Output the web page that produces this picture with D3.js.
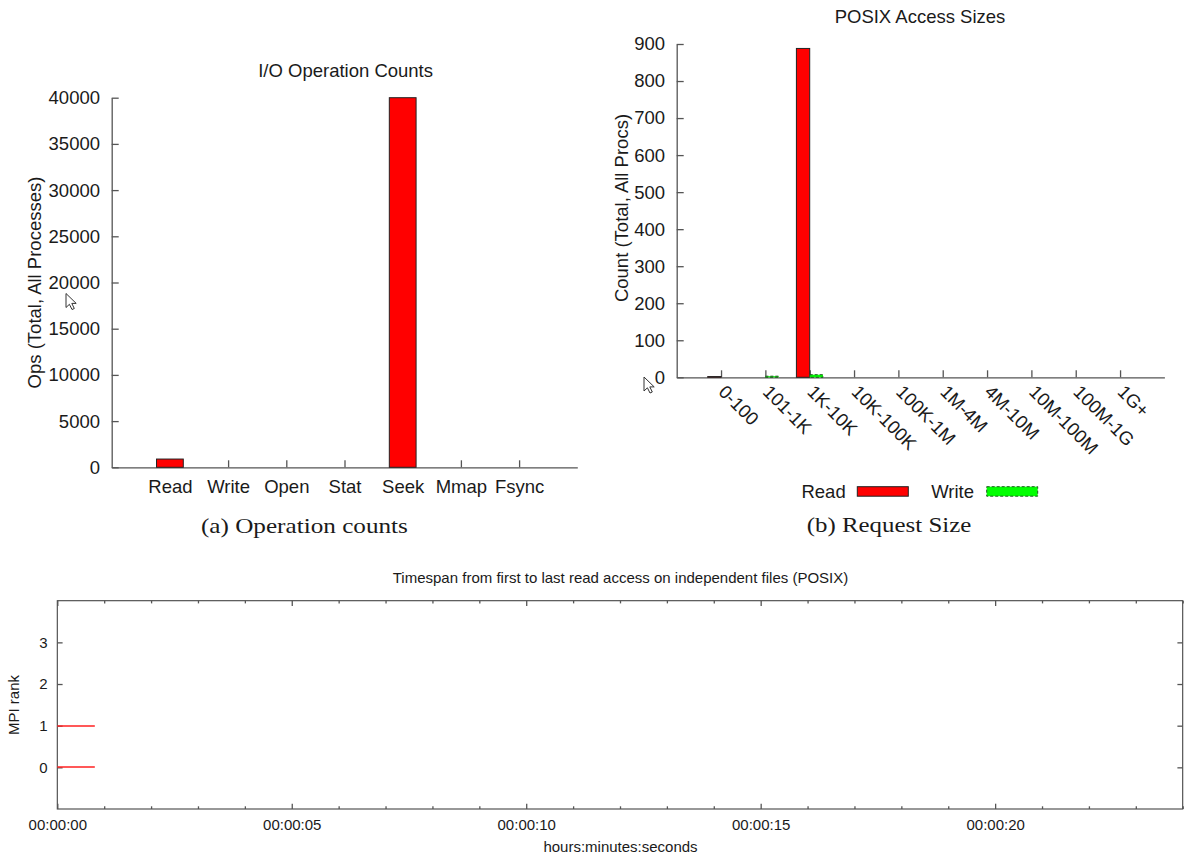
<!DOCTYPE html>
<html>
<head>
<meta charset="utf-8">
<script src="https://cdn.jsdelivr.net/npm/d3@7"></script>
<style>
  html, body { margin: 0; padding: 0; background: #fff; }
  svg { display: block; font-family: "Liberation Sans", Arial, Helvetica, sans-serif; }
</style>
</head>
<body>
<svg id="fig" width="1184" height="858"></svg>
<script>
// ---- (a) I/O operation counts, total over all processes ----
const opCategories = ["Read", "Write", "Open", "Stat", "Seek", "Mmap", "Fsync"];
const opCounts = [893, 0, 0, 0, 40000, 0, 0];
const opTicks = [0, 5000, 10000, 15000, 20000, 25000, 30000, 35000, 40000];

// ---- (b) POSIX access sizes ----
const sizeCategories = ["0-100", "101-1K", "1K-10K", "10K-100K", "100K-1M",
                        "1M-4M", "4M-10M", "10M-100M", "100M-1G", "1G+"];
const sizeReads  = [2, 0, 888, 0, 0, 0, 0, 0, 0, 0];
const sizeWrites = [0, 3, 7, 0, 0, 0, 0, 0, 0, 0];
const sizeTicks = [0, 100, 200, 300, 400, 500, 600, 700, 800, 900];

// ---- first-to-last read access per MPI rank (seconds) ----
const ranks = [0, 1];
const rankFirst = [0, 0];
const rankLast = [0.8, 0.8];
const rankTicks = [0, 1, 2, 3];
const timeTicks = [0, 5, 10, 15, 20];
const timeTickLabels = ["00:00:00", "00:00:05", "00:00:10", "00:00:15", "00:00:20"];

const svg = d3.select("#fig");
const INK = "#1a1a1a";
const AXIS = "#555";
const plain = d3.format("d");

function styleAxis(g, size) {
  g.attr("font-size", null).attr("font-family", null);
  g.select(".domain").attr("stroke", AXIS).attr("stroke-width", 1.3);
  g.selectAll(".tick line").attr("stroke", AXIS).attr("stroke-width", 1.3);
  g.selectAll(".tick text").attr("fill", INK).style("font-size", size + "px");
}

// ================= (a) Operation counts =================
{
  const x = d3.scaleLinear().domain([0, opCategories.length + 1]).range([111.7, 577.3]);
  const y = d3.scaleLinear().domain([0, 40000]).range([467.3, 97.7]);
  const g = svg.append("g");

  g.append("g").attr("transform", `translate(${x(0)},0)`)
    .call(d3.axisLeft(y).tickValues(opTicks).tickFormat(plain)
      .tickSize(-7).tickSizeOuter(0).tickPadding(11.7))
    .call(a => styleAxis(a, 18.5));

  g.append("g").attr("transform", `translate(0,${y(0)})`)
    .call(d3.axisBottom(x).tickValues(d3.range(1, opCategories.length + 1))
      .tickFormat(i => opCategories[i - 1]).tickSize(-7).tickSizeOuter(0).tickPadding(12.8))
    .call(a => styleAxis(a, 18.5));

  const bw = 0.46;
  g.selectAll("rect.bar")
    .data(opCounts.map((v, i) => ({ v, i })).filter(d => d.v > 0))
    .join("rect").attr("class", "bar")
    .attr("x", d => x(d.i + 1 - bw / 2))
    .attr("width", x(bw) - x(0))
    .attr("y", d => y(d.v))
    .attr("height", d => y(0) - y(d.v))
    .attr("fill", "#ff0000").attr("stroke", "#222").attr("stroke-width", 1);

  g.append("text").attr("x", 345.6).attr("y", 76.5).attr("text-anchor", "middle")
    .attr("fill", INK).style("font-size", "18.5px").text("I/O Operation Counts");

  g.append("text").attr("transform", "translate(35,282.5) rotate(-90)")
    .attr("dy", "0.35em").attr("text-anchor", "middle")
    .attr("fill", INK).style("font-size", "18.5px").text("Ops (Total, All Processes)");

  g.append("text").attr("x", 304.4).attr("y", 532.5).attr("text-anchor", "middle")
    .attr("textLength", 207).attr("lengthAdjust", "spacingAndGlyphs")
    .style("font-family", "'Liberation Serif', 'Times New Roman', serif")
    .style("font-size", "22px").attr("fill", INK).text("(a) Operation counts");
}

// ================= (b) Request size =================
{
  const x = d3.scaleLinear().domain([0, sizeCategories.length + 1]).range([676.7, 1164.4]);
  const y = d3.scaleLinear().domain([0, 900]).range([377.3, 44]);
  const g = svg.append("g");

  g.append("g").attr("transform", `translate(${x(0)},0)`)
    .call(d3.axisLeft(y).tickValues(sizeTicks).tickFormat(plain)
      .tickSize(-7).tickSizeOuter(0).tickPadding(11.7))
    .call(a => styleAxis(a, 18.5));

  const xa = g.append("g").attr("transform", `translate(0,${y(0)})`)
    .call(d3.axisBottom(x).tickValues(d3.range(1, sizeCategories.length + 1))
      .tickFormat(i => sizeCategories[i - 1]).tickSize(-7).tickSizeOuter(0))
    .call(a => styleAxis(a, 18.5));
  xa.selectAll(".tick text")
    .attr("text-anchor", "start").attr("x", -4).attr("y", 15.7).attr("dy", null)
    .attr("transform", "rotate(45,-4,15.7)");

  const bw = 0.3;
  g.selectAll("rect.rd")
    .data(sizeReads.map((v, i) => ({ v, i })).filter(d => d.v > 0))
    .join("rect").attr("class", "rd")
    .attr("x", d => x(d.i + 1 - bw))
    .attr("width", x(bw) - x(0))
    .attr("y", d => y(d.v))
    .attr("height", d => y(0) - y(d.v))
    .attr("fill", "#ff0000").attr("stroke", "#222").attr("stroke-width", 1);

  g.selectAll("rect.wr")
    .data(sizeWrites.map((v, i) => ({ v, i })).filter(d => d.v > 0))
    .join("rect").attr("class", "wr")
    .attr("x", d => x(d.i + 1))
    .attr("width", x(bw) - x(0))
    .attr("y", d => y(d.v))
    .attr("height", d => y(0) - y(d.v))
    .attr("fill", "#00ff00").attr("stroke", "#1f5a1f").attr("stroke-width", 1)
    .attr("stroke-dasharray", "3,2");

  g.append("text").attr("x", 920).attr("y", 22.5).attr("text-anchor", "middle")
    .attr("fill", INK).style("font-size", "18.5px").text("POSIX Access Sizes");

  g.append("text").attr("transform", "translate(622,208) rotate(-90)")
    .attr("dy", "0.35em").attr("text-anchor", "middle")
    .attr("fill", INK).style("font-size", "18.5px").text("Count (Total, All Procs)");

  // legend
  const lg = g.append("g");
  lg.append("text").attr("x", 845.7).attr("y", 498).attr("text-anchor", "end")
    .attr("fill", INK).style("font-size", "18.5px").text("Read");
  lg.append("rect").attr("x", 857.3).attr("y", 486.7).attr("width", 51).attr("height", 9.5)
    .attr("fill", "#ff0000").attr("stroke", "#222").attr("stroke-width", 1);
  lg.append("text").attr("x", 974).attr("y", 498).attr("text-anchor", "end")
    .attr("fill", INK).style("font-size", "18.5px").text("Write");
  lg.append("rect").attr("x", 986.7).attr("y", 486.7).attr("width", 51).attr("height", 9.5)
    .attr("fill", "#00ff00").attr("stroke", "#1f5a1f").attr("stroke-width", 1)
    .attr("stroke-dasharray", "3,2");

  g.append("text").attr("x", 889).attr("y", 532).attr("text-anchor", "middle")
    .attr("textLength", 164.6).attr("lengthAdjust", "spacingAndGlyphs")
    .style("font-family", "'Liberation Serif', 'Times New Roman', serif")
    .style("font-size", "22px").attr("fill", INK).text("(b) Request Size");
}

// ================= Timespan per rank =================
{
  const x = d3.scaleLinear().domain([0, 24]).range([57.3, 1182.7]);
  const y = d3.scaleLinear().domain([-1, 4]).range([809, 600.7]);
  const g = svg.append("g");
  const FS = 15;
  const minor = d3.range(0, 25).filter(s => s % 5 !== 0);

  g.append("rect").attr("x", x(0)).attr("y", y(4))
    .attr("width", x(24) - x(0)).attr("height", y(-1) - y(4))
    .attr("fill", "none").attr("stroke", "#444").attr("stroke-width", 1.1);

  const noDomain = a => a.select(".domain").remove();

  g.append("g").attr("transform", `translate(0,${y(-1)})`)
    .call(d3.axisBottom(x).tickValues(timeTicks).tickFormat((d, i) => timeTickLabels[i])
      .tickSize(-5.3).tickSizeOuter(0).tickPadding(9.85))
    .call(a => styleAxis(a, FS)).call(noDomain);
  g.append("g").attr("transform", `translate(0,${y(-1)})`)
    .call(d3.axisBottom(x).tickValues(minor).tickFormat("").tickSize(-2.7).tickSizeOuter(0))
    .call(a => styleAxis(a, FS)).call(noDomain);
  g.append("g").attr("transform", `translate(0,${y(4)})`)
    .call(d3.axisTop(x).tickValues(timeTicks).tickFormat("").tickSize(-5.3).tickSizeOuter(0))
    .call(a => styleAxis(a, FS)).call(noDomain);
  g.append("g").attr("transform", `translate(0,${y(4)})`)
    .call(d3.axisTop(x).tickValues(minor).tickFormat("").tickSize(-2.7).tickSizeOuter(0))
    .call(a => styleAxis(a, FS)).call(noDomain);
  g.append("g").attr("transform", `translate(${x(0)},0)`)
    .call(d3.axisLeft(y).tickValues(rankTicks).tickFormat(plain)
      .tickSize(-5.3).tickSizeOuter(0).tickPadding(9.6))
    .call(a => styleAxis(a, FS)).call(noDomain);
  g.append("g").attr("transform", `translate(${x(24)},0)`)
    .call(d3.axisRight(y).tickValues(rankTicks).tickFormat("").tickSize(-5.3).tickSizeOuter(0))
    .call(a => styleAxis(a, FS)).call(noDomain);

  // one span per rank, drawn above the frame ticks
  g.selectAll("line.span")
    .data(ranks.map((r, i) => ({ r, a: rankFirst[i], b: rankLast[i] })))
    .join("line").attr("class", "span")
    .attr("x1", d => x(d.a)).attr("x2", d => x(d.b))
    .attr("y1", d => Math.round(y(d.r))).attr("y2", d => Math.round(y(d.r)))
    .attr("stroke", "#ff2020").attr("stroke-width", 1.6);

  g.append("text").attr("x", 620.5).attr("y", 583.3).attr("text-anchor", "middle")
    .attr("fill", INK).style("font-size", FS + "px")
    .text("Timespan from first to last read access on independent files (POSIX)");
  g.append("text").attr("x", 620.5).attr("y", 852).attr("text-anchor", "middle")
    .attr("fill", INK).style("font-size", FS + "px").text("hours:minutes:seconds");
  g.append("text").attr("transform", "translate(14,705) rotate(-90)")
    .attr("dy", "0.35em").attr("text-anchor", "middle")
    .attr("fill", INK).style("font-size", FS + "px").text("MPI rank");
}

// mouse pointer glyphs left on the figure
const pointer = "M0,0 L0,14 L3.4,10.8 L6,16 L8.3,15 L5.8,9.9 L10.2,9.9 Z";
[[66, 293.5], [644, 377]].forEach(([px, py]) => {
  svg.append("path").attr("d", pointer)
    .attr("transform", `translate(${px},${py})`)
    .attr("fill", "#fff").attr("stroke", "#333").attr("stroke-width", 1)
    .attr("stroke-linejoin", "round");
});
</script>
</body>
</html>
